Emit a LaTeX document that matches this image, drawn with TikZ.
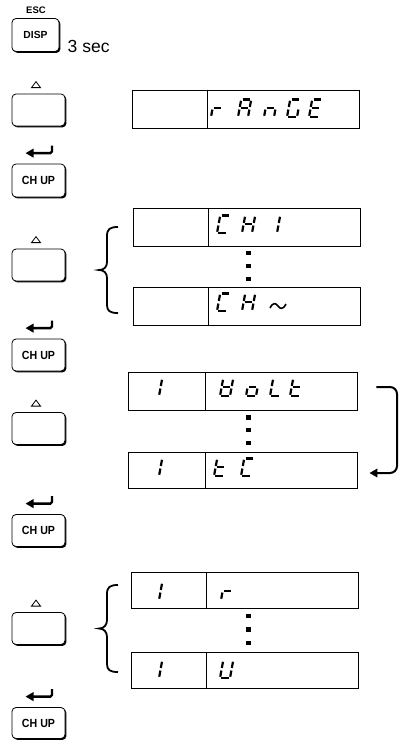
\documentclass[tikz,border=0pt]{standalone}
\usepackage{fontspec}
\setmainfont{Liberation Sans}
\usetikzlibrary{arrows.meta,shadows,calc}
\def\segW{10}\def\segS{3.2}\def\segH{17.5}
\newcommand\sevseg[3]{%
  \begin{scope}[shift={(#1,#2)}]
  \foreach \q in {#3}{%
    \ifcase\q\or
      \draw[seg] (\segS,-\segH) -- (\segW+\segS,-\segH);%a
    \or
      \draw[seg] (\segW+\segS,-\segH) -- (\segW+\segS/2,-\segH/2);%b
    \or
      \draw[seg] (\segW+\segS/2,-\segH/2) -- (\segW,0);%c
    \or
      \draw[seg] (0,0) -- (\segW,0);%d
    \or
      \draw[seg] (\segS/2,-\segH/2) -- (0,0);%e
    \or
      \draw[seg] (\segS,-\segH) -- (\segS/2,-\segH/2);%f
    \or
      \draw[seg] (\segS/2,-\segH/2) -- (\segW+\segS/2,-\segH/2);%g
    \fi}
  \end{scope}}
\begin{document}
\begin{tikzpicture}[x=1pt,y=-1pt,
  seg/.style={line width=2.2pt,shorten <=1.3pt,shorten >=1.3pt},
  keybox/.style={draw,line width=0.8pt,rounded corners=4pt,fill=white,inner sep=0pt,
    minimum width=53pt,minimum height=32pt,
    drop shadow={shadow xshift=1.4pt,shadow yshift=-1.4pt,fill=black,opacity=1}},
  keyfont/.style={font=\bfseries\fontsize{11.8}{13}\selectfont},
  disp/.style={draw,line width=0.9pt,inner sep=0pt,minimum width=227pt,minimum height=38pt},
  tri/.style={draw,line width=0.8pt},
  enter/.style={line width=2.3pt,-{Triangle[length=8pt,width=8.5pt]}},
  brace/.style={line width=1.8pt},
  dotsq/.style={fill=black,inner sep=0pt,minimum size=4.5pt},
  lbl/.style={inner sep=0pt}]
\useasboundingbox (0,0) rectangle (401,740);
% keys
\node[keybox,minimum width=47pt,minimum height=33pt,font=\bfseries\fontsize{10.3}{12}\selectfont] (kd) at (35.5,35) {DISP};
\node[lbl,font=\bfseries\fontsize{9.5}{10}\selectfont] (esc) at (36,10) {ESC};
\node[lbl,anchor=base west,font=\fontsize{17.5}{19}\selectfont] (sec) at (67.5,52) {3 sec};
\node[keybox] (u1) at (38.5,110) {};
\node[keybox,keyfont,minimum height=33pt] (c1) at (38.5,180.5) {\scalebox{0.9}[1]{CH UP}};
\node[keybox] (u2) at (38.5,265) {};
\node[keybox,keyfont] (c2) at (38.5,355) {\scalebox{0.9}[1]{CH UP}};
\node[keybox] (u3) at (38.5,428.5) {};
\node[keybox,keyfont] (c3) at (38.5,530.5) {\scalebox{0.9}[1]{CH UP}};
\node[keybox] (u4) at (38.5,628.5) {};
\node[keybox,keyfont,minimum height=31pt] (c4) at (38.5,723) {\scalebox{0.9}[1]{CH UP}};
% triangles above up keys
\foreach \k in {u1,u2,u3,u4}{
  \draw[tri] ($(\k.north)+(-2.5,-12)$) -- ($(\k.north)+(-7,-6)$) -- ($(\k.north)+(2,-6)$) -- cycle;
}
% enter arrows
\foreach \k in {c1,c2,c3,c4}{
  \coordinate (\k a) at ($(\k.north)+(13.5,-18)$);
  \coordinate (\k b) at ($(\k.north)+(13.5,-10.5)$);
  \coordinate (\k c) at ($(\k.north)+(-13,-10.5)$);
  \draw[enter,rounded corners=1.5pt] (\k a) -- (\k b) -- (\k c);
}
% displays
\node[disp] (d1) at (245.5,109) {};
\node[disp] (dA) at (246.5,227) {};
\node[disp] (dB) at (246.5,306) {};
\node[disp,minimum width=229pt] (dC) at (242.5,391) {};
\node[disp,minimum width=229pt,minimum height=36pt] (dD) at (242.5,470) {};
\node[disp,minimum height=36pt] (dE) at (244.5,590) {};
\node[disp,minimum height=36pt] (dF) at (244.5,670) {};
\foreach \d/\o in {d1/76,dA/76,dB/76,dC/78,dD/78,dE/76,dF/76}{
  \draw[line width=0.9pt] ($(\d.north west)+(\o,0)$) -- ($(\d.south west)+(\o,0)$);
}
% characters
\sevseg{211}{117}{5,7}
\sevseg{238}{117}{1,2,3,5,6,7}
\sevseg{264}{117}{3,5,7}
\sevseg{287}{117}{1,3,4,5,6}
\sevseg{309}{117}{1,4,5,6,7}
\sevseg{217}{233}{1,4,5,6}
\sevseg{242}{233}{2,3,5,6,7}
\sevseg{267}{233}{2,3}
\sevseg{217}{311}{1,4,5,6}
\sevseg{242}{311}{2,3,5,6,7}
\draw[line width=1.6pt] (270,308) .. controls (273,302) and (276,303) .. (278,306) .. controls (280,309) and (283,310) .. (286,304);
\sevseg{149}{396}{2,3}
\sevseg{220}{396}{2,3,4,5,6,7}
\sevseg{246}{396}{3,4,5,7}
\sevseg{270}{396}{4,5,6}
\sevseg{290}{396}{4,5,6,7}
\sevseg{149}{476}{2,3}
\sevseg{214}{476}{4,5,6,7}
\sevseg{241}{476}{1,4,5,6}
\sevseg{149}{600}{2,3}
\sevseg{221}{600}{5,7}
\sevseg{149}{678}{2,3}
\sevseg{220}{678}{2,3,4,5,6}
% dots
\node[dotsq] (p1) at (248.5,253) {};
\node[dotsq] (p2) at (248.5,266) {};
\node[dotsq] (p3) at (248.5,279) {};
\node[dotsq] (p4) at (248.5,417.5) {};
\node[dotsq] (p5) at (248.5,430) {};
\node[dotsq] (p6) at (248.5,443) {};
\node[dotsq] (p7) at (248.5,616) {};
\node[dotsq] (p8) at (248.5,629.5) {};
\node[dotsq] (p9) at (248.5,643) {};
% braces
\draw[brace] (118,227) .. controls (110,227) and (107,229) .. (107,236) -- (107,262) .. controls (107,267) and (104,270) .. (99,270) .. controls (104,270) and (107,273) .. (107,278) -- (107,305) .. controls (107,311) and (110,313) .. (118,313);
\draw[brace] (118,585) .. controls (110,585) and (107,587) .. (107,594) -- (107,620) .. controls (107,625) and (104,628.5) .. (99,628.5) .. controls (104,628.5) and (107,632) .. (107,637) -- (107,664) .. controls (107,670) and (110,672) .. (118,672);
% loop arrow
\coordinate (ra) at ($(dC.east)+(19,-4)$);
\coordinate (rb) at (397,387);
\coordinate (rc) at (397,473);
\coordinate (rd) at ($(dD.east)+(12,3)$);
\draw[line width=2pt,rounded corners=7pt,-{Triangle[length=8pt,width=8.5pt]}] (ra) -- (rb) -- (rc) -- (rd);
\end{tikzpicture}
\end{document}
